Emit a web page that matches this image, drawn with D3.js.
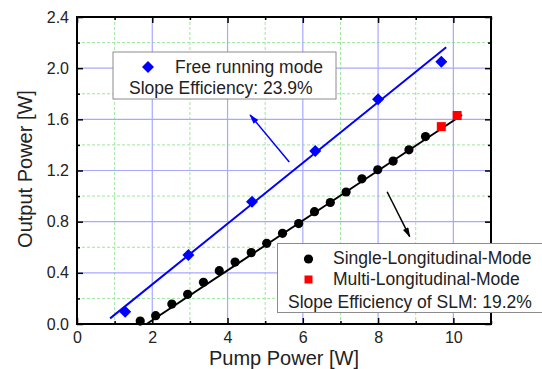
<!DOCTYPE html>
<meta charset="utf-8" />
<style>
    body { margin: 0; background: #fff; }
    svg { display: block; font-family: "Liberation Sans", Arial, sans-serif; }
</style>
<svg width="542" height="369"></svg>
<script src="https://d3js.org/d3.v7.min.js"></script>
<script>
    // data
    var freeX = [1.28, 2.96, 4.65, 6.33, 8.0, 9.68];
    var freeY = [0.095, 0.54, 0.955, 1.353, 1.757, 2.05];

    var slmX = [1.68, 2.09, 2.52, 2.94, 3.36, 3.78, 4.2, 4.63, 5.04, 5.46, 5.89, 6.31, 6.73, 7.15, 7.57, 7.99, 8.4, 8.82, 9.26];
    var slmY = [0.023, 0.065, 0.156, 0.232, 0.326, 0.417, 0.484, 0.558, 0.631, 0.709, 0.785, 0.878, 0.95, 1.032, 1.135, 1.206, 1.274, 1.362, 1.465];

    var mlmX = [9.68, 10.1];
    var mlmY = [1.543, 1.63];

    // linear fits (end points)
    var freeFitX = [0.88, 9.81];
    var freeFitY = [0.044, 2.163];
    var slmFitX = [1.85, 10.23];
    var slmFitY = [0.0, 1.634];

    var xMajor = [0, 2, 4, 6, 8, 10];
    var xMinor = [1, 3, 5, 7, 9, 11];
    var yMajor = [0, 0.4, 0.8, 1.2, 1.6, 2.0, 2.4];
    var yMinor = [0.2, 0.6, 1.0, 1.4, 1.8, 2.2];

    // annotation arrows [x1, y1, x2, y2] in data units
    var arrowFree = [5.64, 1.267, 4.6, 1.634];
    var arrowSlm = [8.24, 1.034, 8.84, 0.683];

    var svg = d3.select("svg");
    var pLeft = 77, pRight = 491, pTop = 17, pBottom = 324;

    var x = d3.scaleLinear().domain([0, 11]).range([pLeft, pRight]);
    var y = d3.scaleLinear().domain([0, 2.4]).range([pBottom, pTop]);

    // grid
    var grid = svg.append("g");
    grid.selectAll(".gxm").data(xMinor.filter(d => d < 11)).enter().append("line")
        .attr("x1", d => x(d)).attr("x2", d => x(d)).attr("y1", pTop).attr("y2", pBottom)
        .attr("stroke", "#9be89b").attr("stroke-width", 1).attr("stroke-dasharray", "3,2");
    grid.selectAll(".gym").data(yMinor).enter().append("line")
        .attr("y1", d => y(d)).attr("y2", d => y(d)).attr("x1", pLeft).attr("x2", pRight)
        .attr("stroke", "#9be89b").attr("stroke-width", 1).attr("stroke-dasharray", "3,2");
    grid.selectAll(".gx").data(xMajor.filter(d => d > 0)).enter().append("line")
        .attr("x1", d => x(d)).attr("x2", d => x(d)).attr("y1", pTop).attr("y2", pBottom)
        .attr("stroke", "#a8a8ff").attr("stroke-width", 1.2);
    grid.selectAll(".gy").data(yMajor.filter(d => d > 0 && d < 2.4)).enter().append("line")
        .attr("y1", d => y(d)).attr("y2", d => y(d)).attr("x1", pLeft).attr("x2", pRight)
        .attr("stroke", "#a8a8ff").attr("stroke-width", 1.2);

    // axes with inward ticks
    function styleAxis(g) {
        g.select(".domain").remove();
        g.selectAll("line").attr("stroke", "#000").attr("stroke-width", 1.5);
        g.selectAll("text").attr("font-size", 16).attr("fill", "#222")
            .attr("font-family", "'Liberation Sans', Arial, sans-serif");
    }
    svg.append("g").attr("transform", "translate(0," + pBottom + ")")
        .call(d3.axisBottom(x).tickValues(xMajor).tickFormat(d3.format("d")).tickSize(-6).tickPadding(8))
        .call(styleAxis);
    svg.append("g").attr("transform", "translate(0," + pBottom + ")")
        .call(d3.axisBottom(x).tickValues(xMinor).tickFormat("").tickSize(-3))
        .call(styleAxis);
    svg.append("g").attr("transform", "translate(0," + pTop + ")")
        .call(d3.axisTop(x).tickValues(xMajor).tickFormat("").tickSize(-6))
        .call(styleAxis);
    svg.append("g").attr("transform", "translate(0," + pTop + ")")
        .call(d3.axisTop(x).tickValues(xMinor).tickFormat("").tickSize(-3))
        .call(styleAxis);
    svg.append("g").attr("transform", "translate(" + pLeft + ",0)")
        .call(d3.axisLeft(y).tickValues(yMajor).tickFormat(d3.format(".1f")).tickSize(-6).tickPadding(8))
        .call(styleAxis);
    svg.append("g").attr("transform", "translate(" + pLeft + ",0)")
        .call(d3.axisLeft(y).tickValues(yMinor).tickFormat("").tickSize(-3))
        .call(styleAxis);
    svg.append("g").attr("transform", "translate(" + pRight + ",0)")
        .call(d3.axisRight(y).tickValues(yMajor).tickFormat("").tickSize(-6))
        .call(styleAxis);
    svg.append("g").attr("transform", "translate(" + pRight + ",0)")
        .call(d3.axisRight(y).tickValues(yMinor).tickFormat("").tickSize(-3))
        .call(styleAxis);

    // frame
    svg.append("rect").attr("x", pLeft).attr("y", pTop)
        .attr("width", pRight - pLeft).attr("height", pBottom - pTop)
        .attr("fill", "none").attr("stroke", "#000").attr("stroke-width", 2);

    // fit lines
    var line = d3.line().x(d => x(d[0])).y(d => y(d[1]));
    svg.append("path").datum(d3.zip(freeFitX, freeFitY)).attr("d", line)
        .attr("stroke", "#0000ff").attr("stroke-width", 2).attr("fill", "none");
    svg.append("path").datum(d3.zip(slmFitX, slmFitY)).attr("d", line)
        .attr("stroke", "#000").attr("stroke-width", 2).attr("fill", "none");

    // points
    var diamond = d3.symbol().type(d3.symbolDiamond2).size(92);
    svg.append("g").selectAll("path").data(d3.zip(freeX, freeY)).enter().append("path")
        .attr("d", diamond)
        .attr("transform", d => "translate(" + x(d[0]) + "," + y(d[1]) + ")")
        .attr("fill", "#0000ff");
    svg.append("g").selectAll("circle").data(d3.zip(slmX, slmY)).enter().append("circle")
        .attr("cx", d => x(d[0])).attr("cy", d => y(d[1])).attr("r", 4.6)
        .attr("fill", "#000");
    svg.append("g").selectAll("rect").data(d3.zip(mlmX, mlmY)).enter().append("rect")
        .attr("x", d => x(d[0]) - 4.5).attr("y", d => y(d[1]) - 4.5)
        .attr("width", 9).attr("height", 9).attr("fill", "#ff0000");

    // arrows
    var defs = svg.append("defs");
    [["headBlue", "#0000ff"], ["headBlack", "#000"]].forEach(function (m) {
        defs.append("marker").attr("id", m[0]).attr("viewBox", "0 0 10 6")
            .attr("refX", 9).attr("refY", 3).attr("markerWidth", 11).attr("markerHeight", 6)
            .attr("markerUnits", "userSpaceOnUse").attr("orient", "auto")
            .append("path").attr("d", "M0,0L10,3L0,6Z").attr("fill", m[1]);
    });
    svg.append("line")
        .attr("x1", x(arrowFree[0])).attr("y1", y(arrowFree[1]))
        .attr("x2", x(arrowFree[2])).attr("y2", y(arrowFree[3]))
        .attr("stroke", "#0000ff").attr("stroke-width", 1.5).attr("marker-end", "url(#headBlue)");
    svg.append("line")
        .attr("x1", x(arrowSlm[0])).attr("y1", y(arrowSlm[1]))
        .attr("x2", x(arrowSlm[2])).attr("y2", y(arrowSlm[3]))
        .attr("stroke", "#000").attr("stroke-width", 1.5).attr("marker-end", "url(#headBlack)");

    // legend 1
    var lg1 = svg.append("g");
    lg1.append("rect").attr("x", 113).attr("y", 52).attr("width", 223).attr("height", 47)
        .attr("fill", "#fff").attr("stroke", "#8c8c8c").attr("stroke-width", 1);
    lg1.append("path").attr("d", diamond).attr("transform", "translate(148,67)").attr("fill", "#0000ff");
    lg1.append("text").attr("x", 175).attr("y", 72.5).attr("font-size", 17.5).attr("fill", "#222")
        .text("Free running mode");
    lg1.append("text").attr("x", 129).attr("y", 94).attr("font-size", 17.5).attr("fill", "#222")
        .text("Slope Efficiency: 23.9%");

    // legend 2
    var lg2 = svg.append("g");
    lg2.append("rect").attr("x", 277.5).attr("y", 243.5).attr("width", 270).attr("height", 69)
        .attr("fill", "#fff").attr("stroke", "#8c8c8c").attr("stroke-width", 1);
    lg2.append("circle").attr("cx", 308.5).attr("cy", 259).attr("r", 4.6).attr("fill", "#000");
    lg2.append("rect").attr("x", 304.5).attr("y", 275.5).attr("width", 8).attr("height", 8).attr("fill", "#ff0000");
    lg2.append("text").attr("x", 333).attr("y", 263.5).attr("font-size", 17.5).attr("fill", "#222")
        .text("Single-Longitudinal-Mode");
    lg2.append("text").attr("x", 333).attr("y", 285).attr("font-size", 17.5).attr("fill", "#222")
        .text("Multi-Longitudinal-Mode");
    lg2.append("text").attr("x", 288).attr("y", 307.5).attr("font-size", 17.5).attr("fill", "#222")
        .text("Slope Efficiency of SLM: 19.2%");

    // axis titles
    svg.append("text").attr("x", (pLeft + pRight) / 2).attr("y", 365)
        .attr("text-anchor", "middle").attr("font-size", 20).attr("fill", "#222")
        .text("Pump Power [W]");
    svg.append("text").attr("transform", "translate(32,169) rotate(-90)")
        .attr("text-anchor", "middle").attr("font-size", 20).attr("fill", "#222")
        .text("Output Power [W]");
</script>
